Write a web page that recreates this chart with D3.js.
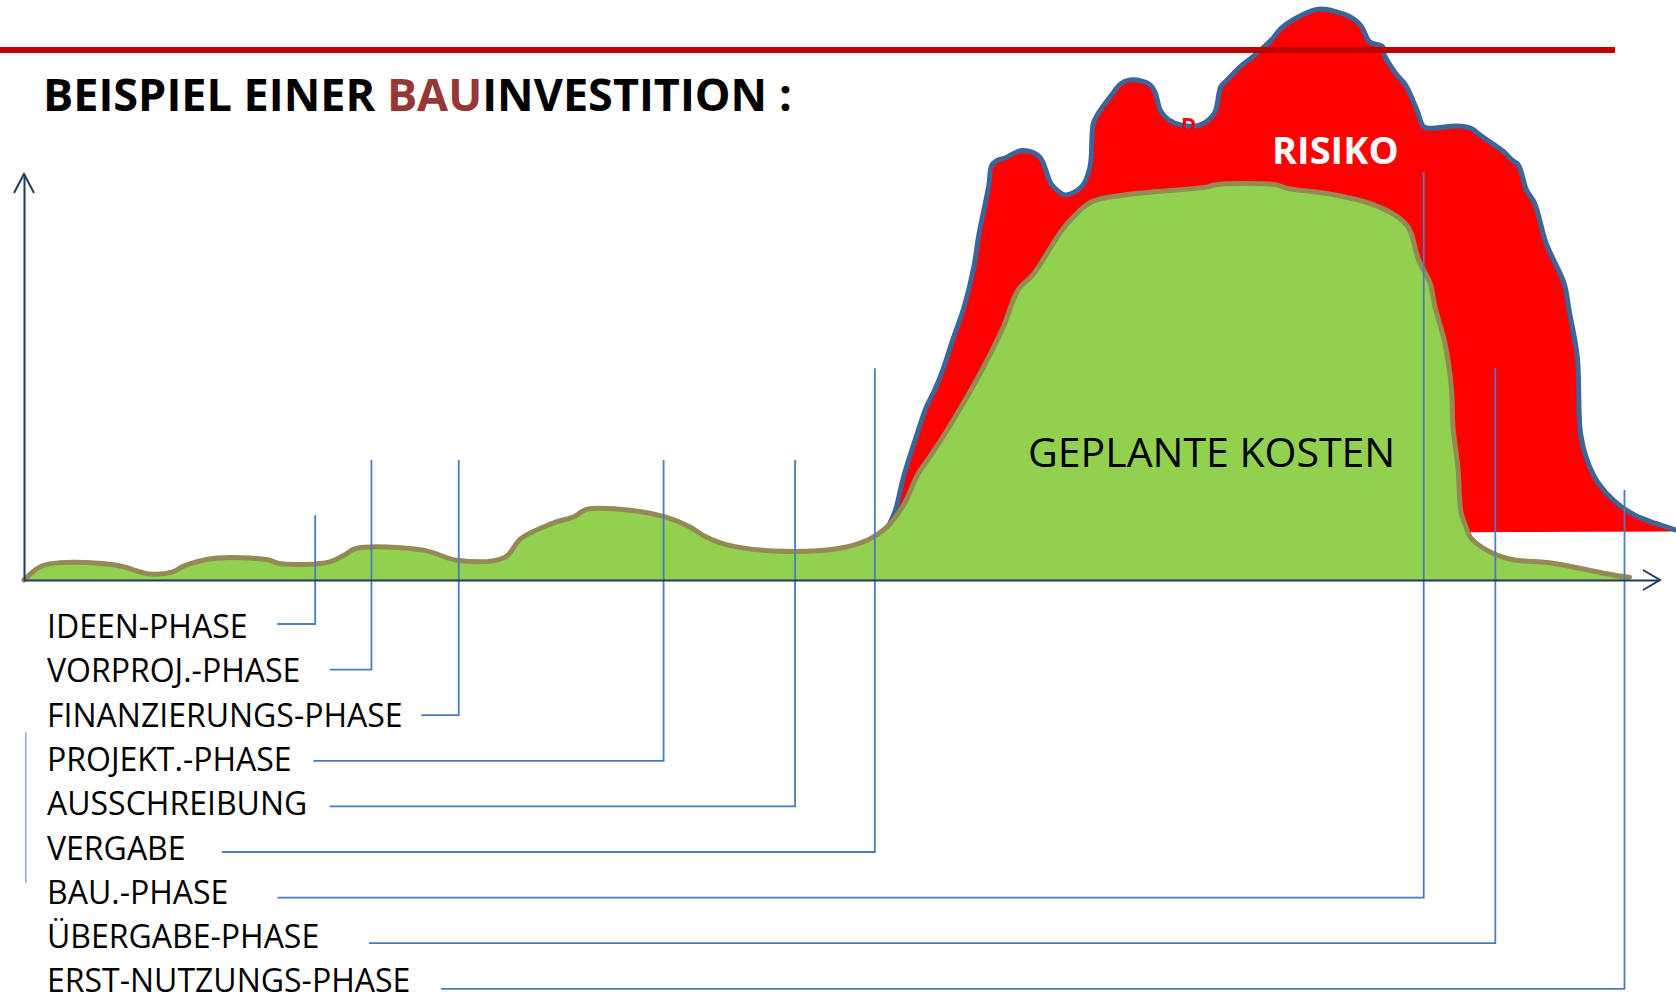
<!DOCTYPE html>
<html>
<head>
<meta charset="utf-8">
<script src="https://cdn.jsdelivr.net/npm/d3@7"></script>
<style>
  html, body { margin: 0; padding: 0; background: #fff; }
  svg { display: block; font-family: "Open Sans", sans-serif; }
</style>
</head>
<body>
<div id="chart"></div>
<script>
// planned costs (green) - time / cost in axis units (0..100)
var plannedTime = [0, 1.0, 2.2, 5.6, 7.7, 9.1, 9.8, 11.7, 14.9, 15.7, 18.7, 19.6, 20.3, 24.4, 26.6,
  29.4, 30.4, 32.3, 33.7, 34.4, 37.2, 39.3, 40.7, 41.7, 43.0, 45.9, 49.8, 51.6, 52.8, 53.8,
  54.7, 55.4, 56.6, 57.8, 58.7, 59.9, 60.8, 61.7, 62.5, 63.4, 64.0, 65.3, 67.3, 72.4, 72.8,
  76.6, 77.2, 80.2, 82.4, 84.0, 84.7, 85.3, 86.0, 86.3, 86.9, 87.3, 87.4, 87.7, 87.9, 88.2,
  88.5, 89.8, 91.1, 93.4, 96.6, 97.9, 98.2];
var plannedCost = [0, 3.3, 4.3, 3.7, 1.5, 2.0, 3.5, 5.4, 5.0, 4.0, 4.5, 6.2, 7.8, 7.4, 4.8,
  5.6, 10.3, 14.0, 15.8, 17.5, 17.2, 15.5, 13.2, 10.7, 8.7, 7.2, 7.8, 9.9, 13.2, 18.6,
  26.4, 30.5, 38.0, 46.2, 52.8, 62.7, 71.8, 75.5, 80.4, 86.1, 89.1, 93.6, 95.3, 97.3, 97.8,
  97.8, 97.0, 95.3, 93.1, 89.9, 87.1, 79.2, 73.5, 67.6, 58.7, 47.8, 37.9, 28.0, 16.6, 13.1,
  10.4, 6.7, 5.0, 4.2, 1.7, 0.8, 0.7];

// risk envelope (red), upper edge
var riskTime = [52.9, 53.3, 53.8, 54.7, 55.2, 55.7, 56.2, 56.8, 57.5, 58.1, 58.4, 59.0, 59.2, 59.6, 60.0,
  61.0, 62.1, 62.8, 63.3, 63.7, 64.7, 65.2, 65.4, 65.7, 66.6, 67.1, 67.9, 68.9, 69.2, 69.5,
  70.0, 70.8, 71.9, 72.8, 73.2, 73.6, 74.4, 75.3, 76.3, 76.9, 78.2, 79.2, 81.1, 81.8, 82.3,
  83.1, 83.2, 83.9, 84.5, 85.2, 85.6, 86.0, 87.6, 88.5, 89.2, 90.5, 91.0, 91.4, 91.9, 92.4,
  93.1, 94.2, 94.5, 95.0, 95.2, 95.6, 96.3, 97.2, 98.5, 99.8, 101.0];
var riskCost = [13.6, 17.3, 25.6, 37.1, 42.9, 47.0, 52.0, 59.4, 67.6, 77.6, 85.4, 97.4, 102.7, 104.0, 104.4,
  106.3, 104.8, 98.2, 96.1, 95.3, 97.4, 102.3, 113.0, 115.5, 120.5, 122.9, 123.8, 122.5, 120.5, 116.3,
  113.9, 112.6, 112.6, 115.5, 122.1, 123.8, 127.1, 130.0, 133.7, 136.6, 139.9, 141.3, 139.4, 137.0, 133.2,
  132.0, 130.0, 125.4, 122.5, 116.3, 112.2, 111.8, 112.4, 111.8, 109.7, 106.0, 104.0, 102.7, 96.5, 93.2,
  83.3, 73.4, 66.8, 55.3, 36.3, 29.7, 23.9, 19.8, 16.1, 14.0, 12.4];
// risk envelope, lower edge (mostly hidden behind the green area)
var riskBaseTime = [101.0, 88.4, 88.0, 53.0];
var riskBaseCost = [12.0, 11.8, 4, 4];

// phases
var phaseLabels = ["IDEEN-PHASE", "VORPROJ.-PHASE", "FINANZIERUNGS-PHASE", "PROJEKT.-PHASE",
  "AUSSCHREIBUNG", "VERGABE", "BAU.-PHASE", "ÜBERGABE-PHASE", "ERST-NUTZUNGS-PHASE"];
var phaseTime = [17.81, 21.25, 26.59, 39.12, 47.16, 52.04, 85.61, 89.99, 97.89];
var phaseMarkTop = [16.1, 29.7, 29.7, 29.7, 29.7, 52.4, 100.9, 52.4, 22.3];
var linkStart = [15.5, 18.7, 24.3, 17.7, 18.7, 12.1, 15.5, 21.1, 25.5];

var width = 1676, height = 1001;

var svg = d3.select("#chart").append("svg")
    .attr("width", width)
    .attr("height", height);

// set the ranges
var x = d3.scaleLinear().domain([0, 100]).range([24, 1659]);
var y = d3.scaleLinear().domain([0, 100]).range([580, 176]);

var curve = d3.curveCatmullRom.alpha(0.5);
var line = d3.line()
    .x(function(d) { return x(d[0]); })
    .y(function(d) { return y(d[1]); })
    .curve(curve);

var riskPts = riskTime.map(function(t, i) { return [t, riskCost[i]]; });
var plannedPts = plannedTime.map(function(t, i) { return [t, plannedCost[i]]; });
var base = riskBaseTime.map(function(t, i) { return [x(t), y(riskBaseCost[i])]; });

// red risk area
svg.append("path")
    .attr("d", line(riskPts) + "L" + base.join("L") + "Z")
    .attr("fill", "#ff0000");

svg.append("path")
    .attr("d", line(riskPts))
    .attr("fill", "none")
    .attr("stroke", "#3d6597")
    .attr("stroke-width", 5)
    .attr("stroke-linejoin", "round")
    .attr("stroke-linecap", "round");

// small stray letter at the notch
svg.append("text")
    .attr("x", 1181)
    .attr("y", 133)
    .attr("font-size", 21)
    .attr("font-weight", "bold")
    .attr("fill", "#ff0000")
    .text("D");

// green planned costs
var area = d3.area()
    .x(function(d) { return x(d[0]); })
    .y0(y(0))
    .y1(function(d) { return y(d[1]); })
    .curve(curve);

svg.append("path")
    .attr("d", area(plannedPts))
    .attr("fill", "#92d050");

svg.append("path")
    .attr("d", line(plannedPts))
    .attr("fill", "none")
    .attr("stroke", "#948a54")
    .attr("stroke-width", 5)
    .attr("stroke-linejoin", "round")
    .attr("stroke-linecap", "round");

// red bar under the header
svg.append("line")
    .attr("x1", 0).attr("x2", 1615)
    .attr("y1", 50).attr("y2", 50)
    .attr("stroke", "#c00000")
    .attr("stroke-width", 6);

// leader lines from the phase labels
var labelY0 = 638, labelStep = 44.3;
var linkY0 = 624, linkStep = 45.6;

svg.selectAll(".leader")
    .data(phaseLabels)
    .enter()
    .append("path")
    .attr("class", "leader")
    .attr("d", function(d, i) {
      var ry = linkY0 + i * linkStep;
      return "M" + x(phaseTime[i]) + "," + y(phaseMarkTop[i]) +
             "V" + ry + "H" + x(linkStart[i]);
    })
    .attr("fill", "none")
    .attr("stroke", "#4a7ebb")
    .attr("stroke-width", 1.8);

// stray thin bar left of the labels
svg.append("line")
    .attr("x1", x(0.11)).attr("x2", x(0.11))
    .attr("y1", y(-37.6)).attr("y2", y(-75))
    .attr("stroke", "#7fa2d2")
    .attr("stroke-width", 1.3);

svg.selectAll(".phase")
    .data(phaseLabels)
    .enter()
    .append("text")
    .attr("class", "phase")
    .attr("x", 47)
    .attr("y", function(d, i) { return labelY0 + i * labelStep; })
    .attr("font-size", 32)
    .attr("fill", "#000")
    .text(function(d) { return d; });

// axes (no ticks, only the lines) with open arrow heads
var axisColor = "#1f3b61";
var gx = svg.append("g")
    .attr("transform", "translate(0," + y(0) + ")")
    .call(d3.axisBottom(x).tickValues([]).tickSizeOuter(0));
var gy = svg.append("g")
    .attr("transform", "translate(" + x(0) + ",0)")
    .call(d3.axisLeft(y).tickValues([]).tickSizeOuter(0));
svg.selectAll(".domain").attr("stroke", axisColor).attr("stroke-width", 2);

svg.append("path")
    .attr("d", "M" + (x(100) - 16) + "," + (y(0) - 10) + "L" + (x(100) + 1) + "," + y(0) +
               "L" + (x(100) - 16) + "," + (y(0) + 10))
    .attr("fill", "none").attr("stroke", axisColor).attr("stroke-width", 2);
svg.append("path")
    .attr("d", "M" + (x(0) - 10) + "," + (y(100) + 17) + "L" + x(0) + "," + (y(100) - 2) +
               "L" + (x(0) + 10) + "," + (y(100) + 17))
    .attr("fill", "none").attr("stroke", axisColor).attr("stroke-width", 2);

// texts
var title = svg.append("text")
    .attr("x", 43)
    .attr("y", 111)
    .attr("font-size", 45)
    .attr("font-weight", "bold")
    .attr("fill", "#000");
title.append("tspan").text("BEISPIEL EINER ");
title.append("tspan").attr("fill", "#953735").text("BAU");
title.append("tspan").text("INVESTITION :");

svg.append("text")
    .attr("x", 1272)
    .attr("y", 164)
    .attr("font-size", 38)
    .attr("font-weight", "bold")
    .attr("fill", "#fff")
    .text("RISIKO");

svg.append("text")
    .attr("x", 1028)
    .attr("y", 467)
    .attr("font-size", 41)
    .attr("fill", "#000")
    .text("GEPLANTE KOSTEN");
</script>
</body>
</html>
